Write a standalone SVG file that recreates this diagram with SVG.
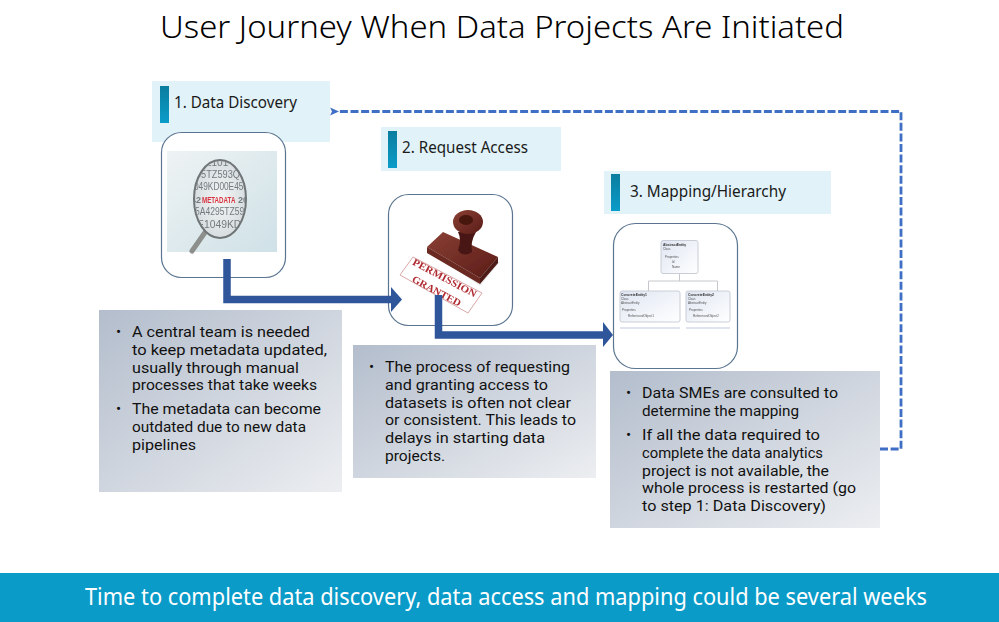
<svg xmlns="http://www.w3.org/2000/svg" width="999" height="622" viewBox="0 0 999 622">
<style>
text{font-family:"Noto Sans","Open Sans","Liberation Sans",sans-serif;fill:#1a1a1a}
.h{font-size:16px}
text.b{font-family:Roboto,"Noto Sans",sans-serif;font-size:15.2px;fill:#111}
.card{fill:#fff;stroke:#5b7590;stroke-width:1.2}
.lab{fill:#e1f2f8}
.tick{fill:url(#tk)}
.box{fill:url(#bx)}
.flow{fill:none;stroke:#2f559b;stroke-width:7.500}
.head{fill:#2f559b}
.dash{fill:none;stroke:#3f6fc4;stroke-width:2.800;stroke-dasharray:8 2.600}
.ent{fill:url(#en);stroke:#c9ced6;stroke-width:1}
text.et{font-family:"Liberation Sans",sans-serif;font-size:3.4px;font-weight:700;fill:#333}
text.es{font-family:"Liberation Sans",sans-serif;font-size:3px;fill:#555}
.ph text{font-family:"Liberation Sans",sans-serif}
.soft{filter:url(#soft)}
</style>
<defs>
<linearGradient id="tk" x1="0" y1="0" x2="0" y2="1"><stop offset="0" stop-color="#0b7d9f"/><stop offset="1" stop-color="#0a9cc9"/></linearGradient>
<linearGradient id="bx" x1="0" y1="0" x2="1" y2="1"><stop offset="0" stop-color="#b3bdcc"/><stop offset="1" stop-color="#eceef1"/></linearGradient>
<linearGradient id="en" x1="0" y1="0" x2="1" y2="1"><stop offset="0" stop-color="#dfe6f2"/><stop offset="1" stop-color="#fff"/></linearGradient>
<linearGradient id="ph" x1="0" y1="0" x2="1" y2="1"><stop offset="0" stop-color="#eef3f4"/><stop offset="0.6" stop-color="#dbe8ec"/><stop offset="1" stop-color="#cfe1e7"/></linearGradient>
<linearGradient id="wood" x1="0" y1="0" x2="1" y2="1"><stop offset="0" stop-color="#8a4034"/><stop offset="1" stop-color="#5a1c18"/></linearGradient>
<radialGradient id="lens" cx="0.5" cy="0.5" r="0.6"><stop offset="0" stop-color="#f4f6f6"/><stop offset="1" stop-color="#d2d9dc"/></radialGradient>
<clipPath id="lensClip"><ellipse cx="220" cy="199" rx="25" ry="38"/></clipPath>
<filter id="soft" x="-5%" y="-5%" width="110%" height="110%"><feGaussianBlur stdDeviation="0.4"/></filter>
<marker id="dashHead" markerUnits="userSpaceOnUse" markerWidth="12" markerHeight="12" refX="1" refY="5" orient="auto"><path d="M9 1L0 5L9 9L7 5Z" fill="#3f6fc4"/></marker>
</defs>
<rect x="0" y="0" width="999" height="622" fill="#fff"/>
<text id="title" x="502" y="38" text-anchor="middle" font-size="32" font-weight="300" style="fill:#000" textLength="684" lengthAdjust="spacingAndGlyphs">User Journey When Data Projects Are Initiated</text>

<g id="label-1"><rect class="lab" x="152" y="81" width="178" height="61"/><rect class="tick" x="160" y="86" width="9" height="37"/><text class="h" x="174" y="108" textLength="123" lengthAdjust="spacingAndGlyphs">1. Data Discovery</text></g>
<g id="label-2"><rect class="lab" x="381" y="127" width="180" height="44"/><rect class="tick" x="388" y="131" width="9" height="37"/><text class="h" x="402" y="153" textLength="126" lengthAdjust="spacingAndGlyphs">2. Request Access</text></g>
<g id="label-3"><rect class="lab" x="604" y="171" width="227" height="43"/><rect class="tick" x="611" y="174" width="9" height="37"/><text class="h" x="630" y="197" textLength="156" lengthAdjust="spacingAndGlyphs">3. Mapping/Hierarchy</text></g>

<g id="card-1">
<rect class="card" x="161.500" y="132.500" width="124" height="145" rx="20"/>
<g class="ph soft">
<rect x="167" y="151" width="110" height="101" fill="url(#ph)"/>
<path d="M192 251L206 231" stroke="#8d8f8c" stroke-width="5" stroke-linecap="round"/>
<ellipse cx="220" cy="199" rx="26" ry="39" fill="url(#lens)" stroke="#6f7476" stroke-width="2"/>
<g clip-path="url(#lensClip)" font-size="10">
<text style="fill:#727a7e"><tspan x="206" y="166">2101</tspan><tspan x="196" y="178" textLength="50" lengthAdjust="spacingAndGlyphs">95TZ593QV</tspan><tspan x="194" y="190" textLength="54" lengthAdjust="spacingAndGlyphs">049KD00E458</tspan></text>
<text font-size="9" font-weight="700" style="fill:#727a7e" x="191" y="203">42</text>
<text font-size="6.200" font-weight="700" style="fill:#d8333f" transform="translate(202 203) scale(1 1.35)">METADATA</text>
<text font-size="9" font-weight="700" style="fill:#727a7e" x="238" y="203">20</text>
<text style="fill:#727a7e"><tspan x="195" y="215" textLength="54" lengthAdjust="spacingAndGlyphs">5A4295TZ593</tspan><tspan x="197" y="228" textLength="50" lengthAdjust="spacingAndGlyphs">E1049KD0</tspan></text>
</g>
</g>
</g>

<g id="card-2">
<rect class="card" x="388.500" y="194.500" width="124" height="131" rx="20"/>
<g class="ph soft">
<path d="M428 250L480 286L500 262Z" fill="#ddd" opacity=".6"/>
<path d="M427 247L443 232L498 257L480 278Z" fill="url(#wood)"/>
<path d="M427 247L480 278L480 284L427 253Z" fill="#6a2a22"/>
<path d="M480 278L498 257L498 263L480 284Z" fill="#4e1b17"/>
<path d="M458 232Q462 240 458 250Q463 258 472 252Q470 242 476 232Z" fill="#4a1612"/>
<ellipse cx="468" cy="222" rx="15" ry="12" fill="url(#wood)"/>
<ellipse cx="466" cy="220" rx="7" ry="5" fill="#47140f"/>
<path d="M413 257L482 293L468 313L400 275Z" fill="#fff" stroke="#d9a6a6"/>
<text x="443" y="281" font-size="10" font-weight="700" text-anchor="middle" transform="rotate(28 443 281)" style="fill:#b02a30;font-family:'Liberation Serif',serif" textLength="71" lengthAdjust="spacingAndGlyphs">PERMISSION</text>
<text x="435" y="294" font-size="10" font-weight="700" text-anchor="middle" transform="rotate(28 435 294)" style="fill:#b02a30;font-family:'Liberation Serif',serif" textLength="54" lengthAdjust="spacingAndGlyphs">GRANTED</text>
</g>
</g>

<g id="card-3">
<rect class="card" x="613.500" y="223.500" width="124" height="145" rx="22"/>
<g class="soft">
<path d="M679.500 273V281M648.500 291V281H717.500V291" fill="none" stroke="#c4c8cc" stroke-width="1"/>
<rect class="ent" x="661" y="240.500" width="37" height="33" rx="2"/>
<text class="et" x="663" y="246">AbstractEntity</text><text class="es"><tspan x="663" y="250">Class</tspan><tspan x="665" y="258">Properties</tspan><tspan x="672" y="263">Id</tspan><tspan x="672" y="268">Name</tspan></text>
<rect class="ent" x="620" y="291" width="60" height="31" rx="2"/>
<text class="et" x="621" y="296">ConcreteEntity1</text><text class="es"><tspan x="621" y="300">Class</tspan><tspan x="621" y="304">AbstractEntity</tspan><tspan x="622" y="311">Properties</tspan><tspan x="628" y="317">ReferencedObject1</tspan></text>
<rect class="ent" x="686" y="291" width="44" height="31" rx="2"/>
<text class="et" x="688" y="296">ConcreteEntity2</text><text class="es"><tspan x="688" y="300">Class</tspan><tspan x="688" y="304">AbstractEntity</tspan><tspan x="689" y="311">Properties</tspan><tspan x="693" y="317">ReferencedObject2</tspan></text>
<rect x="620" y="327" width="60" height="2" fill="#dfe4ee"/><rect x="686" y="327" width="44" height="2" fill="#dfe4ee"/>
</g>
</g>

<g id="note-1"><rect class="box" x="99" y="310" width="243" height="182"/>
<text class="b"><tspan x="116" y="337">•</tspan><tspan x="132" y="337" textLength="178" lengthAdjust="spacingAndGlyphs">A central team is needed</tspan><tspan x="132" y="354.800" textLength="195" lengthAdjust="spacingAndGlyphs">to keep metadata updated,</tspan><tspan x="132" y="372.600" textLength="167" lengthAdjust="spacingAndGlyphs">usually through manual</tspan><tspan x="132" y="390.400" textLength="185" lengthAdjust="spacingAndGlyphs">processes that take weeks</tspan></text>
<text class="b"><tspan x="116" y="414">•</tspan><tspan x="132" y="414" textLength="189" lengthAdjust="spacingAndGlyphs">The metadata can become</tspan><tspan x="132" y="431.800" textLength="174" lengthAdjust="spacingAndGlyphs">outdated due to new data</tspan><tspan x="132" y="449.600" textLength="64" lengthAdjust="spacingAndGlyphs">pipelines</tspan></text></g>

<g id="note-2"><rect class="box" x="353" y="345" width="243" height="133"/>
<text class="b"><tspan x="369" y="372">•</tspan><tspan x="385" y="372" textLength="185" lengthAdjust="spacingAndGlyphs">The process of requesting</tspan><tspan x="385" y="389.800" textLength="163" lengthAdjust="spacingAndGlyphs">and granting access to</tspan><tspan x="385" y="407.600" textLength="186" lengthAdjust="spacingAndGlyphs">datasets is often not clear</tspan><tspan x="385" y="425.400" textLength="191" lengthAdjust="spacingAndGlyphs">or consistent. This leads to</tspan><tspan x="385" y="443.200" textLength="160" lengthAdjust="spacingAndGlyphs">delays in starting data</tspan><tspan x="385" y="461" textLength="60" lengthAdjust="spacingAndGlyphs">projects.</tspan></text></g>

<g id="note-3"><rect class="box" x="610" y="371" width="270" height="157"/>
<text class="b"><tspan x="626" y="398">•</tspan><tspan x="642" y="398" textLength="196" lengthAdjust="spacingAndGlyphs">Data SMEs are consulted to</tspan><tspan x="642" y="415.800" textLength="157" lengthAdjust="spacingAndGlyphs">determine the mapping</tspan></text>
<text class="b"><tspan x="626" y="440">•</tspan><tspan x="642" y="440" textLength="178" lengthAdjust="spacingAndGlyphs">If all the data required to</tspan><tspan x="642" y="457.800" textLength="181" lengthAdjust="spacingAndGlyphs">complete the data analytics</tspan><tspan x="642" y="475.600" textLength="187" lengthAdjust="spacingAndGlyphs">project is not available, the</tspan><tspan x="642" y="493.400" textLength="214" lengthAdjust="spacingAndGlyphs">whole process is restarted (go</tspan><tspan x="642" y="511.200" textLength="184" lengthAdjust="spacingAndGlyphs">to step 1: Data Discovery)</tspan></text></g>

<g id="connectors">
<path class="flow" d="M227 259V299.500H392"/><path class="head" d="M391 287L402 299.500L391 312Z"/>
<path class="flow" d="M438.500 295V335H604"/><path class="head" d="M603 322L613 335L603 347Z"/>
<path class="dash" d="M880 449H901V111.500H338" marker-end="url(#dashHead)"/>
</g>

<g id="banner"><rect x="0" y="573" width="999" height="49" fill="#0a9bc9"/>
<text x="506" y="605" text-anchor="middle" font-size="23" style="fill:#fff" textLength="842" lengthAdjust="spacingAndGlyphs">Time to complete data discovery, data access and mapping could be several weeks</text></g>
</svg>
